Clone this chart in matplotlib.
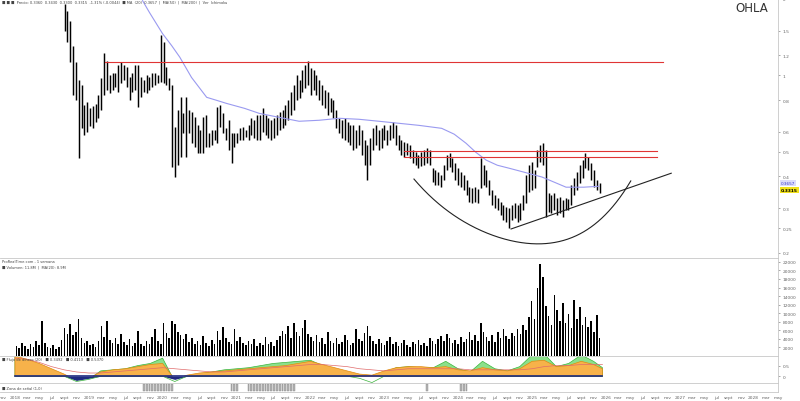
import numpy as np
import pandas as pd
import matplotlib
matplotlib.use('Agg')
import matplotlib.pyplot as plt
import matplotlib.dates as mdates

# bars are two-weekly, starting 2018-01-08
bar_start = '2018-01-08'
bar_step = '14D'

# first 17 bars sit above the visible price range
pre_high = [3.05, 3.10, 3.00, 2.95, 2.85, 2.90, 2.80, 2.75, 2.70, 2.60,
            2.65, 2.55, 2.50, 2.45, 2.40, 2.35, 2.30]
pre_low = [2.85, 2.90, 2.80, 2.75, 2.65, 2.70, 2.60, 2.55, 2.50, 2.40,
           2.45, 2.35, 2.30, 2.25, 2.20, 2.15, 2.05]

bar_high = [1.92, 1.80, 1.64, 1.31, 1.125, 0.956, 0.914, 0.762, 0.784, 0.742,
            0.756, 0.769, 0.835, 0.973, 1.23, 1.145, 1.00, 1.027, 1.018, 1.095,
            1.125, 1.095, 1.075, 0.982, 1.027, 1.095, 1.095, 0.982, 0.956, 1.00,
            0.982, 1.018, 1.027, 1.00, 1.44, 1.35, 1.075, 0.973, 0.914, 0.625,
            0.729, 0.820, 0.709, 0.820, 0.729, 0.716, 0.684, 0.636, 0.608, 0.684,
            0.697, 0.592, 0.608, 0.608, 0.749, 0.762, 0.709, 0.619, 0.666, 0.592,
            0.592, 0.592, 0.619, 0.625, 0.608, 0.636, 0.678, 0.666, 0.697, 0.697,
            0.742, 0.697, 0.678, 0.666, 0.678, 0.697, 0.716, 0.729, 0.762, 0.798,
            0.858, 0.914, 1.00, 0.956, 1.046, 1.095, 1.145, 1.065, 1.046, 1.00,
            0.956, 0.914, 0.873, 0.858, 0.812, 0.798, 0.729, 0.678, 0.666, 0.678,
            0.654, 0.636, 0.636, 0.608, 0.636, 0.608, 0.556, 0.531, 0.566, 0.619,
            0.636, 0.608, 0.619, 0.636, 0.608, 0.636, 0.654, 0.636, 0.581, 0.556,
            0.546, 0.541, 0.531, 0.508, 0.498, 0.485, 0.498, 0.508, 0.517, 0.508,
            0.431, 0.424, 0.416, 0.405, 0.443, 0.485, 0.494, 0.472, 0.451, 0.431,
            0.416, 0.405, 0.387, 0.363, 0.360, 0.363, 0.357, 0.472, 0.443, 0.424,
            0.387, 0.353, 0.338, 0.329, 0.317, 0.309, 0.303, 0.300, 0.309, 0.314,
            0.309, 0.314, 0.338, 0.405, 0.443, 0.455, 0.424, 0.508, 0.531, 0.541,
            0.508, 0.344, 0.338, 0.344, 0.329, 0.332, 0.323, 0.329, 0.326, 0.370,
            0.394, 0.416, 0.443, 0.464, 0.494, 0.477, 0.451, 0.424, 0.387, 0.377]
bar_low = [1.50, 1.35, 1.125, 0.835, 0.798, 0.472, 0.619, 0.581, 0.597, 0.631,
           0.619, 0.654, 0.678, 0.729, 0.835, 0.873, 0.850, 0.873, 0.897, 0.858,
           0.930, 0.956, 0.897, 0.798, 0.858, 0.873, 0.749, 0.820, 0.858, 0.850,
           0.873, 0.897, 0.914, 0.930, 0.939, 0.930, 0.914, 0.873, 0.435, 0.398,
           0.443, 0.477, 0.592, 0.477, 0.592, 0.541, 0.521, 0.494, 0.494, 0.494,
           0.521, 0.521, 0.531, 0.556, 0.541, 0.625, 0.592, 0.556, 0.508, 0.451,
           0.521, 0.541, 0.556, 0.556, 0.571, 0.556, 0.581, 0.566, 0.556, 0.556,
           0.597, 0.581, 0.566, 0.556, 0.566, 0.581, 0.608, 0.619, 0.636, 0.666,
           0.697, 0.729, 0.798, 0.812, 0.858, 0.889, 0.914, 0.835, 0.873, 0.835,
           0.798, 0.762, 0.742, 0.697, 0.716, 0.678, 0.619, 0.592, 0.566, 0.556,
           0.546, 0.531, 0.508, 0.517, 0.531, 0.485, 0.443, 0.387, 0.443, 0.508,
           0.531, 0.508, 0.517, 0.556, 0.531, 0.556, 0.566, 0.531, 0.508, 0.485,
           0.477, 0.485, 0.472, 0.451, 0.443, 0.431, 0.439, 0.443, 0.451, 0.443,
           0.380, 0.370, 0.370, 0.363, 0.387, 0.424, 0.435, 0.416, 0.387, 0.370,
           0.363, 0.353, 0.338, 0.317, 0.314, 0.317, 0.314, 0.360, 0.370, 0.363,
           0.338, 0.309, 0.300, 0.295, 0.282, 0.270, 0.265, 0.251, 0.270, 0.275,
           0.265, 0.270, 0.295, 0.314, 0.347, 0.353, 0.360, 0.435, 0.455, 0.443,
           0.277, 0.290, 0.287, 0.295, 0.282, 0.287, 0.277, 0.295, 0.295, 0.309,
           0.338, 0.353, 0.377, 0.394, 0.431, 0.424, 0.387, 0.363, 0.353, 0.344]

volume = [2400, 1900, 3100, 2300, 1700, 2800, 2000, 3400, 2600, 8200,
          3000, 2100, 1800, 2500, 1600, 2200, 3800,
          6500, 5200, 7400, 4800, 5600, 8600,
          4200, 3100, 3600, 2500, 2900, 2200, 3400, 6900, 4500, 8100,
          3800, 3000, 4100, 2700, 5200, 3300, 2600, 3900, 2400, 3100,
          5800, 2800, 2300, 3500, 2900, 4400, 6300, 3600, 2700, 7600,
          5400, 4300, 8200,
          7400, 5600, 4800, 3900, 5200, 3300, 4100, 2800, 3500, 2600,
          4700, 3100, 2400, 3800, 2900, 5900, 3700, 6800, 4200, 3300,
          2800, 6200, 3600, 4400, 3000, 2500, 3400, 2700, 3900, 2300,
          3100, 2600, 4500, 2900, 3300, 2400, 3800, 4600, 5800, 5100,
          6900, 4300, 7800, 5500, 4700,
          6600, 8300, 5200, 4400, 3600, 5000, 3200, 4100, 2900, 5700,
          3500, 3000, 4200, 2700, 3300, 4900, 3800, 2600, 3100, 6200,
          4000, 3400, 5300, 7000, 4600, 3500, 2800, 3900, 3100, 2500,
          3600, 4500, 2700, 3200, 2400, 3000, 3700, 2600, 2200, 3300,
          2900, 3800, 2500, 3100, 2300, 4100, 3400, 2700, 3900, 4700,
          3500, 5200, 4300, 3000, 3800, 2900, 4500, 3300, 4000, 5600,
          3700, 4900, 3400, 7800, 5500, 4400, 3600, 4800, 3200, 5700,
          4100, 6200, 4600, 3900, 5300, 4700, 6400, 5100, 7200, 6000,
          9200, 12800, 8600, 16000, 21500, 18500, 11800, 9400, 7200, 14200,
          10800, 8100, 12300, 7600, 9800, 6500, 13100, 8700, 11400, 7300,
          9000, 6800, 8200, 5600, 9500, 4200]

ma_dates = ['2019-09-24', '2019-10-28', '2020-01-01', '2020-02-15', '2020-03-26',
            '2020-05-23', '2020-08-06', '2020-09-24', '2020-11-12', '2021-02-09',
            '2021-04-23', '2021-07-30', '2021-11-06', '2022-02-13', '2022-05-23',
            '2022-08-29', '2022-12-06', '2023-03-14', '2023-06-21', '2023-10-12',
            '2023-12-13', '2024-02-09', '2024-03-29', '2024-05-19', '2024-07-13',
            '2024-09-10', '2024-11-22', '2025-02-19', '2025-04-20', '2025-06-18',
            '2025-09-14', '2025-11-27']
ma_values = [1.97, 1.77, 1.46, 1.31, 1.18, 0.982, 0.82, 0.798, 0.776, 0.742,
             0.709, 0.684, 0.66, 0.666, 0.678, 0.672, 0.66, 0.648, 0.636, 0.619,
             0.587, 0.541, 0.498, 0.464, 0.443, 0.431, 0.416, 0.398, 0.380, 0.363,
             0.363, 0.366]

# drawn levels: (start, end, price)
red_levels = [('2019-03-20', '2026-10-12', 1.125),
              ('2023-04-08', '2026-09-09', 0.503),
              ('2023-04-08', '2026-09-09', 0.477)]
cup_dates = ['2023-05-28', '2023-09-20', '2024-02-09', '2024-06-30', '2025-01-01',
             '2025-06-05', '2025-10-25', '2026-02-10', '2026-05-04']
cup_prices = [0.387, 0.323, 0.261, 0.229, 0.219, 0.227, 0.256, 0.3, 0.39]
trend_dates = ['2024-09-19', '2026-11-20']
trend_prices = [0.2485, 0.412]

# oscillator, every two months from 2018-01
ind_dates = list(pd.date_range('2018-01-01', periods=48, freq='2MS')) + [pd.Timestamp('2025-12-15')]
ind_main = [0.95, 0.8, 0.6, 0.35, 0.1, -0.2, -0.1, 0.2, 0.3, 0.35,
            0.45, 0.55, 0.6, -0.15, 0.05, 0.15, 0.2, 0.25, 0.3, 0.35,
            0.4, 0.45, 0.5, 0.6, 0.7, 0.55, 0.4, 0.25, 0.1, 0.05,
            0.25, 0.4, 0.45, 0.45, 0.4, 0.45, 0.3, 0.25, 0.4, 0.3,
            0.25, 0.35, 0.7, 0.75, 0.45, 0.5, 0.7, 0.55, 0.35]
ind_fast = [0.9, 0.75, 0.55, 0.3, 0.05, -0.25, -0.15, 0.25, 0.3, 0.35,
            0.5, 0.6, 0.85, -0.25, 0.0, 0.1, 0.2, 0.3, 0.35, 0.4,
            0.5, 0.6, 0.65, 0.7, 0.75, 0.5, 0.35, 0.15, -0.1, -0.3,
            0.15, 0.4, 0.45, 0.4, 0.4, 0.7, 0.35, 0.2, 0.7, 0.35,
            0.25, 0.45, 1.0, 1.05, 0.45, 0.6, 1.0, 0.7, 0.4]
ind_signal = [0.85, 0.8, 0.65, 0.45, 0.3, 0.2, 0.15, 0.15, 0.2, 0.25,
              0.3, 0.35, 0.4, 0.35, 0.3, 0.25, 0.2, 0.2, 0.25, 0.3,
              0.35, 0.4, 0.45, 0.5, 0.55, 0.55, 0.5, 0.45, 0.35, 0.3,
              0.25, 0.3, 0.35, 0.35, 0.35, 0.35, 0.35, 0.3, 0.3, 0.3,
              0.3, 0.3, 0.35, 0.45, 0.5, 0.5, 0.55, 0.55, 0.55]

signal_periods = [('2019-09-24', '2020-02-19'), ('2020-11-27', '2021-01-04'),
                  ('2021-02-19', '2021-10-24'), ('2023-07-21', '2023-08-05'),
                  ('2024-01-05', '2024-02-14')]

price_ticks = [0.2, 0.25, 0.3, 0.4, 0.5, 0.6, 0.8, 1, 1.2, 1.5, 2]
vol_ticks = list(range(2000, 22001, 2000))
last_close = 0.3315
last_ma = 0.3657
month_names = {1: 'ene', 3: 'mar', 5: 'may', 7: 'jul', 9: 'sept', 11: 'nov'}

W, H = 800, 402
RIGHT = 778
GREY = '#666666'


def box(top, bottom):
    return [0, 1 - bottom / H, RIGHT / W, (bottom - top) / H]


def style(ax):
    ax.spines['left'].set_visible(False)
    for side in ['top', 'right', 'bottom']:
        ax.spines[side].set_color('#c8c8c8')
        ax.spines[side].set_linewidth(0.6)
    ax.yaxis.tick_right()
    ax.tick_params(axis='y', labelsize=3.2, colors=GREY, length=1.5,
                   width=0.4, pad=2)
    ax.tick_params(axis='x', length=0)


dates = pd.date_range(bar_start, periods=len(pre_high) + len(bar_high),
                      freq=bar_step)
high = np.array(pre_high + bar_high)
low = np.array(pre_low + bar_low)

fig = plt.figure(figsize=(8, 4.02), dpi=100)
ax_p = fig.add_axes(box(0, 259))
ax_v = fig.add_axes(box(259, 357), sharex=ax_p)
ax_i = fig.add_axes(box(357, 384), sharex=ax_p)
ax_s = fig.add_axes(box(384, 393), sharex=ax_p)
for ax in [ax_p, ax_v, ax_i, ax_s]:
    style(ax)

# price panel
ax_p.set_yscale('log')
ax_p.vlines(dates, low, high, color='black', linewidth=1.05)
ax_p.plot(pd.to_datetime(ma_dates), ma_values, color='#9a9af0', linewidth=0.8)
for start, end, level in red_levels:
    ax_p.plot(pd.to_datetime([start, end]), [level, level], color='#e03535',
              linewidth=0.8)

cup_t = mdates.date2num(pd.to_datetime(cup_dates))
coef = np.polyfit(cup_t - cup_t[0], np.log(cup_prices), 4)
tt = np.linspace(cup_t[0], cup_t[-1], 300)
ax_p.plot(tt, np.exp(np.polyval(coef, tt - cup_t[0])), color='#222222',
          linewidth=0.8)
ax_p.plot(pd.to_datetime(trend_dates), trend_prices, color='#222222',
          linewidth=0.8)

ax_p.set_ylim(0.191, 1.97)
ax_p.set_yticks(price_ticks)
ax_p.set_yticklabels([f'{t:g}' for t in price_ticks])
ax_p.yaxis.set_minor_locator(matplotlib.ticker.NullLocator())
ax_p.set_xlim(pd.Timestamp('2017-10-19'), pd.Timestamp('2028-04-22'))

ax_p.text(0.003, 0.997,
          '■ ■ ■  Precio: 0.3360  0.3430  0.3300  0.3315  -1.31% (-0.0044)  '
          '■ MA  (20)  0.3657  |  MA(50)  |  MA(200)  |  Ver  Ichimoku',
          transform=ax_p.transAxes, fontsize=2.6, va='top', color='#444444')
fig.text(735 / W, 1 - 2 / H, 'OHLA', fontsize=8.5, va='top', ha='left',
         color='#333333')
ax_p.annotate(f'{last_ma:.4f}', xy=(1, last_ma),
              xycoords=('axes fraction', 'data'),
              xytext=(2, 2.5), textcoords='offset points', fontsize=3,
              va='center', color='#3a3ad0',
              bbox=dict(boxstyle='square,pad=0.15', fc='#dcdcfa', ec='none'))
ax_p.annotate(f'{last_close:.4f}', xy=(1, bar_low[-1] * 1.03),
              xycoords=('axes fraction', 'data'),
              xytext=(2, 0), textcoords='offset points', fontsize=3.2,
              va='center', fontweight='bold', color='black',
              bbox=dict(boxstyle='square,pad=0.2', fc='#f2e21a', ec='none'))

# volume panel
ax_v.bar(dates, volume, width=8, color='black')
ax_v.set_ylim(0, 22900)
ax_v.set_yticks(vol_ticks)
ax_v.set_yticklabels([str(t) for t in vol_ticks])
ax_v.text(0.003, 0.985, 'ProRealTime.com - 1 semana', transform=ax_v.transAxes,
          fontsize=2.6, va='top', color='#444444')
ax_v.text(0.003, 0.93, '■ Volumen: 11.8M  |  MA(20): 8.9M',
          transform=ax_v.transAxes, fontsize=2.6, va='top', color='#444444')

# oscillator panel
ind_main = np.array(ind_main)
ind_fast = np.array(ind_fast)
ax_i.fill_between(ind_dates, 0, ind_fast, where=ind_fast > 0,
                  color='#8be08b', edgecolor='#3cb43c', linewidth=0.5,
                  interpolate=True)
ax_i.fill_between(ind_dates, 0, ind_main, where=ind_main > 0,
                  color='#f7b24a', edgecolor='#e08a10', linewidth=0.5,
                  interpolate=True)
ax_i.fill_between(ind_dates, 0, np.minimum(ind_main, 0), color='#1f2a80',
                  linewidth=0)
ax_i.plot(ind_dates, np.minimum(ind_fast, 0), color='#3cb43c', linewidth=0.5)
ax_i.plot(ind_dates, [0] * len(ind_dates), color='#1f2a80', linewidth=1.2)
ax_i.plot(ind_dates, ind_signal, color='#e06a6a', linewidth=0.5)
ax_i.set_ylim(-0.32, 0.95)
ax_i.set_yticks([0, 0.5])
ax_i.set_yticklabels(['0', '0.5'])
ax_i.text(0.003, 0.97, '■ Flujo de dinero (20)   ■ 0.3492   ■ 0.4113   ■ 0.5370',
          transform=ax_i.transAxes, fontsize=2.6, va='top', color='#444444')

# signal zones
for start, end in signal_periods:
    inside = dates[(dates >= start) & (dates <= end)]
    ax_s.bar(inside, [0.8] * len(inside), bottom=0.1, width=9,
             color='#b4b4b4', edgecolor='#888888', linewidth=0.3)
ax_s.set_ylim(0, 1)
ax_s.set_yticks([])
ax_s.text(0.003, 0.5, '■ Zona de señal (1,0)', transform=ax_s.transAxes,
          fontsize=2.6, va='center', color='#444444')

# month axis
ticks = pd.date_range('2017-11-01', '2028-05-01', freq='2MS')
labels = [str(t.year) if t.month == 1 else month_names[t.month] for t in ticks]
ax_s.set_xticks(ticks)
ax_s.set_xticklabels(labels, fontsize=3.2, color=GREY)
ax_s.tick_params(axis='x', pad=2.5)
for ax in [ax_p, ax_v, ax_i]:
    plt.setp(ax.get_xticklabels(), visible=False)

fig.savefig('out.png', dpi=100)
